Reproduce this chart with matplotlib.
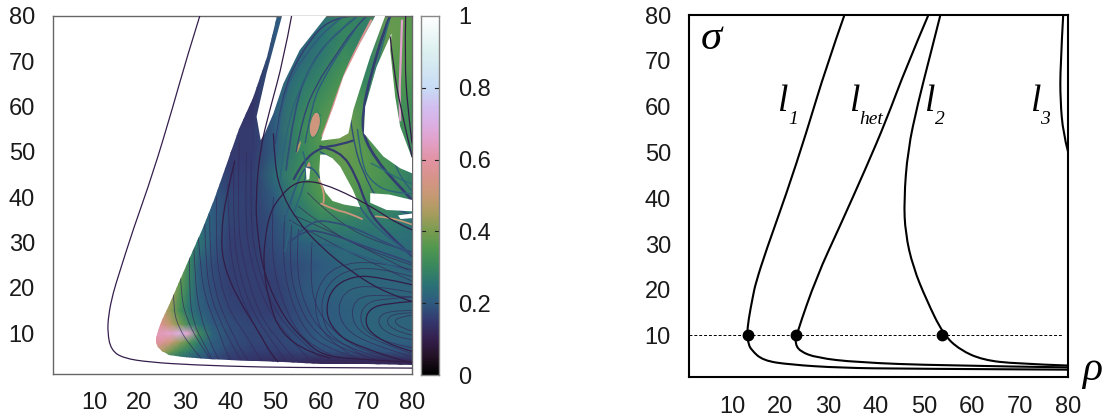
import matplotlib
matplotlib.use("Agg")
import matplotlib.pyplot as plt
import numpy as np
from matplotlib.colors import LinearSegmentedColormap
from matplotlib.patches import PathPatch, Polygon
from matplotlib.path import Path

plt.rcParams['font.family'] = ['Liberation Sans', 'DejaVu Sans']

# colour scale
cbar_stops = [0, 0.05, 0.1, 0.15, 0.2, 0.25, 0.3, 0.35, 0.4, 0.45, 0.5, 0.55, 0.6, 0.65, 0.7, 0.75, 0.8, 0.9, 1]
cbar_colors = ['#000000', '#241226', '#35204f', '#34396f', '#2f5a7f', '#2b7276', '#38875f', '#4f974f',
               '#789c50', '#a89c5e', '#c79a74', '#d8938a', '#e293a4', '#e3a0c8', '#dcb0e4', '#d2c0f0',
               '#c8dcf6', '#dcf0f0', '#ffffff']

# shading of the map, rows follow grid_y, columns follow grid_x
grid_x = [23, 25, 27, 29, 31, 33, 36, 40, 45, 50, 55, 60, 65, 70, 75, 80]
grid_y = [2, 4, 6, 8, 10, 12, 15, 20, 25, 30, 35, 40, 45, 50, 55, 60, 65, 70, 75, 80]
grid_v = [
    [.15, .15, .15, .15, .15, .15, .14, .13, .13, .12, .12, .12, .12, .12, .12, .12],
    [.32, .30, .26, .23, .21, .19, .17, .15, .14, .13, .13, .12, .12, .12, .12, .12],
    [.50, .45, .38, .31, .27, .24, .20, .17, .16, .16, .17, .18, .19, .19, .19, .19],
    [.60, .58, .50, .42, .34, .27, .21, .18, .17, .17, .18, .20, .21, .21, .21, .21],
    [.62, .64, .66, .70, .66, .32, .22, .18, .17, .17, .18, .20, .21, .22, .22, .22],
    [.60, .55, .48, .40, .30, .25, .20, .18, .17, .17, .18, .20, .21, .22, .22, .22],
    [.55, .50, .42, .32, .25, .22, .19, .17, .16, .16, .18, .20, .21, .22, .22, .22],
    [.50, .50, .45, .36, .28, .21, .18, .16, .16, .16, .19, .21, .22, .22, .22, .22],
    [.40, .40, .40, .40, .30, .21, .18, .16, .16, .17, .18, .20, .22, .23, .23, .23],
    [.30, .30, .30, .30, .30, .26, .20, .16, .16, .18, .21, .23, .24, .24, .24, .24],
    [.24, .24, .24, .24, .24, .24, .21, .17, .16, .19, .25, .29, .29, .27, .27, .25],
    [.20, .20, .20, .20, .20, .20, .20, .17, .16, .21, .28, .35, .37, .33, .32, .28],
    [.18, .18, .18, .18, .18, .18, .18, .16, .16, .24, .31, .36, .37, .36, .33, .28],
    [.16, .16, .16, .16, .16, .16, .16, .15, .15, .21, .29, .35, .38, .36, .32, .30],
    [.15, .15, .15, .15, .15, .15, .15, .15, .15, .21, .30, .36, .40, .34, .32, .32],
    [.14, .14, .14, .14, .14, .14, .14, .14, .14, .21, .28, .33, .38, .33, .33, .32],
    [.14, .14, .14, .14, .14, .14, .14, .14, .14, .20, .26, .30, .35, .30, .35, .34],
    [.13, .13, .13, .13, .13, .13, .13, .13, .13, .20, .23, .27, .32, .28, .36, .36],
    [.13, .13, .13, .13, .13, .13, .13, .13, .13, .20, .21, .25, .30, .28, .38, .36],
    [.13, .13, .13, .13, .13, .13, .13, .13, .13, .20, .20, .24, .30, .28, .38, .36],
]

# outline of the coloured region
wedge_x = [23.6, 24, 25, 26.75, 29.7, 33.7, 36.5, 39, 42, 45, 48, 50.4, 80, 80, 70, 60, 51.6, 40, 35, 29.6, 26.5, 25, 24.1, 23.7]
wedge_y = [9, 10.5, 13, 16.6, 23.2, 32.8, 39.5, 47, 55, 62, 71, 80, 80, 3, 3.1, 3.3, 3.6, 4, 4.3, 4.75, 5.3, 6, 6.9, 7.8]

# white gaps inside the region
hole_a = [(46.7, 52.6), (45.8, 57.8), (48, 67.4), (51.4, 80), (61.2, 80), (55.3, 72.5), (51.7, 65.1), (49.5, 58.5), (47.6, 54.1)]
hole_b = [(71.9, 80), (68.6, 74), (64.9, 66.6), (62.7, 60), (60.5, 54.1), (60, 52.5), (64, 53), (66, 54.1), (67.1, 59.3), (70.8, 71), (74.1, 80)]
hole_c = [(75.5, 76.2), (72.2, 68.8), (69.7, 60), (69.4, 54.1), (73.7, 49), (77.4, 46.4), (80, 45.3), (80, 48.6), (77.4, 55.6), (76.3, 62.2), (75.2, 72.5)]
hole_d = [(59.8, 49.4), (59.6, 46), (59.8, 43.8), (61, 41), (62.5, 39.2), (65, 38.4), (68.6, 37.8), (67, 41.6), (64.2, 46.8), (62.5, 48.6), (61, 49.4)]
hole_e = [(70.8, 40.9), (75, 40.6), (80, 39.4), (80, 36.9), (74.4, 37.2), (70.8, 38.8)]
hole_f = [(56.6, 46.6), (57.6, 46.2), (57.4, 44), (56.8, 43.8)]
hole_g = [(76.9, 36), (80, 36.4), (80, 35.4), (77.5, 35.2)]
holes = [hole_a, hole_b, hole_c, hole_d, hole_e, hole_f, hole_g]

# thin outer curve and the dark curves of the map
outer_x = [33.3, 30.5, 27.4, 23, 18.6, 15.5, 14.2, 13.2, 13, 13.8, 16.4, 22.3, 31.8, 47, 62, 80]
outer_y = [80, 71, 60, 45.3, 32.8, 23, 18.8, 14, 10, 6.3, 4.5, 3.6, 3, 2.5, 2.4, 2.3]

dark_curves = [
    ([53.5, 51.7, 48.7, 46.5, 45.6, 45.9, 47.3, 51.6, 56.9, 60.4, 66, 80], [80, 70.3, 59.3, 50.4, 39.4, 32.8, 23.3, 13.6, 7.8, 5.2, 4.3, 3.6]),
    ([41, 39, 38, 38.4, 41.4, 46.5, 48.8, 50.5], [48, 40, 32, 25.5, 18, 10, 5.6, 3.7]),
    ([49.5, 49.8, 51.3, 54.6, 59.8, 67.1, 74.4, 80], [54, 46.8, 40.9, 35, 29.1, 23.2, 18.8, 17]),
    ([62, 57.5, 51, 48.4, 47.3, 47.6, 48.7, 50.9, 53.9, 56.8, 60.5, 67.1, 72.2, 76.6, 80],
     [4.5, 5.6, 10, 17.4, 24.7, 30.6, 36.5, 40.1, 43, 43.6, 43, 40.1, 37.2, 34.3, 32.8]),
    ([80, 72.2, 67.1, 62.7, 61, 62, 67, 80], [20.7, 22.5, 22.6, 20.3, 15.9, 11.5, 7.1, 3.4]),
    ([80, 74.4, 70.8, 69.6, 70.8, 76, 80], [17, 16.6, 15.5, 12.9, 10, 7.1, 6]),
    ([75.2, 75.9, 77.4, 80], [75.4, 68.8, 60, 49]),
    ([78.6, 78.4, 79, 80], [80, 70, 60, 52]),
]

# strands of the upper part, (x, y, colour value, width)
strands = [
    ([80, 75.9, 72.2, 69.3, 69.1, 70.8, 74.1, 75.2], [39.4, 43.8, 48.2, 53.4, 58.5, 66.6, 77.6, 80], .16, 2.0),
    ([59.8, 64.2, 67.8, 70, 72.9, 80], [51.2, 50.4, 44.6, 38, 33.5, 27], .15, 1.6),
    ([59.8, 62.7, 66.5, 69.4, 76, 80], [50, 48.8, 42, 36, 30, 27.3], .2, 1.1),
    ([50, 51.1, 55.5, 62, 68], [52, 62, 72, 80, 80], .16, 1.0),
    ([52.3, 54, 58, 63, 68], [46, 60, 70, 76, 80], .18, 1.2),
    ([54.5, 56, 59, 63, 67, 70], [50, 58, 65, 71, 77, 80], .17, 1.0),
    ([49.8, 50.6, 53, 57, 61, 65], [48, 57, 66, 72, 77, 80], .2, 1.0),
    ([51, 52, 55.5, 60, 64.5, 68], [44, 54, 65, 72.5, 77.5, 80], .22, 1.0),
    ([56.5, 58, 61, 64, 67.5], [52, 61, 67, 72, 77], .2, 1.0),
    ([54, 56, 59.8, 64, 67], [44, 48, 51, 51.5, 52.5], .16, 1.6),
    ([52, 55, 58, 59.8], [35, 45, 47.5, 44], .2, 1.2),
    ([55, 58, 63, 68, 74, 80], [32, 35, 34.5, 33, 30, 27.5], .18, 1.2),
    ([53, 56, 62, 70, 76, 80], [30, 33, 32, 29, 27, 25.5], .17, 1.2),
    ([71, 74, 77, 80], [47.5, 46, 44, 43], .24, 1.0),
    ([66.5, 67.5, 70, 72, 76, 80], [57, 50, 44, 40, 37.5, 36], .18, 1.0),
    ([68, 69, 71, 75, 80], [55, 47, 43.5, 41, 40.8], .22, 1.0),
    ([70.5, 71.5, 73, 75], [59, 66, 72, 79], .24, 1.0),
    ([72, 75, 77, 80], [54, 52, 44.6, 41.4], .2, 0.8),
    ([56, 57, 56, 54.5, 53, 52], [50, 47, 42, 38, 33, 28], .22, 1.0),
    ([57, 61, 66, 72, 80], [29, 30, 28, 26, 23.5], .2, 1.0),
]

# pale pink seams next to the white gaps
seams = [
    ([71, 67, 64, 62, 60.3], [79, 71.5, 64, 58, 53.5], .56, 1.6),
    ([77.8, 77.5, 77.2, 77.4], [79, 70, 62, 57], .66, 1.6),
    ([60, 63, 66, 69], [38.6, 37.2, 36.6, 35.2], .52, 1.3),
    ([59.5, 61, 60.5], [44, 41, 38.8], .52, 1.3),
    ([72, 75, 78, 80], [35.8, 35.5, 34.7, 34], .5, 1.2),
    ([64.5, 62.5, 60.5], [60, 56.5, 52.8], .5, 1.6),
]

# pink patches inside the loops, closed outlines with a colour value
loops = [
    ([60, 59, 57.5, 57.3, 58.3, 59.7], [58, 59.5, 57, 54, 52.8, 55], .52),
    ([56, 54.5, 54.2, 55.2], [53.5, 51.5, 49.5, 50], .48),
    ([57.4, 56.5, 56.8, 58], [48.5, 47, 45, 46.5], .5),
]

# fine streamlines of the lower part
fine_curves = [
    ([27.5, 27.5, 28.8, 31, 33.5], [20, 15, 11, 7.5, 4.6]),
    ([29, 29.2, 30.5, 33, 35.5], [24, 18, 13, 8, 4.5]),
    ([31, 31, 32, 34, 36], [27, 18, 12, 8, 4.3]),
    ([32, 32.3, 33.2, 35, 37.4], [29, 21, 15, 9, 4.3]),
    ([33, 33.5, 34.5, 36, 38, 39, 40], [31, 24, 18, 14, 9, 6, 4.2]),
    ([34.4, 34.6, 35.5, 37.2, 39.6, 41.2, 42.4], [34, 26, 19, 14, 9, 6, 4]),
    ([35.5, 35.5, 36.5, 38.5, 41, 42.5, 44], [36, 28, 20, 14, 9, 6, 3.9]),
    ([37, 36.8, 37.6, 39.8, 43.5, 45.5, 47], [40, 30, 22, 15, 9.5, 6, 3.8]),
    ([39.5, 39.6, 41, 44, 47.5, 50], [43, 32, 22, 14, 8, 4]),
    ([40.8, 40.6, 42, 45, 49, 52], [47, 33, 23, 14.5, 8.5, 4.2]),
    ([42, 41.5, 43, 46, 50, 54], [52, 35, 25, 15, 9, 4.5]),
    ([43.6, 43.2, 44.4, 47.8, 52.5, 57], [50, 36, 26, 16, 9.5, 4.6]),
    ([44.6, 44.4, 45.6, 49.4, 54.6, 60], [48, 36, 26, 15.5, 9, 4.5]),
    ([49.5, 49, 50.2, 53.5, 58, 64], [40, 30, 21, 12, 7, 4.3]),
    ([52, 51.5, 52.5, 55.5, 60, 68], [36, 28, 20, 12, 7, 4.5]),
    ([53.5, 53, 54.2, 57.6, 64, 72], [34, 26, 18.5, 11, 6.6, 4.2]),
    ([55, 54.5, 56, 60, 68, 75], [33, 25, 17, 10, 6, 4]),
    ([58, 57.5, 59, 64, 72, 80], [30, 22, 15, 9, 5, 3.8]),
    ([80, 72, 66, 63.5, 65, 71, 80], [19, 20.5, 20, 16, 11, 7.5, 4.8]),
    ([80, 73, 68, 66.5, 68, 74, 80], [18, 18.5, 18, 14.5, 10.5, 7.5, 5.5]),
    ([80, 74, 70, 68.3, 70, 75, 80], [18, 17.6, 16.8, 13.5, 10, 7.8, 6.8]),
    ([80, 75, 72.5, 73, 77, 80], [15, 15, 13.5, 11, 9, 8.6]),
    ([80, 76, 74.4, 75, 78, 80], [14.5, 14.4, 13, 11.4, 10, 9.6]),
    ([80, 77, 76, 78, 80], [14, 13.5, 12.5, 11, 10.5]),
    ([80, 72, 63, 59, 58.6, 61, 66], [24, 26, 25, 20, 14, 9, 5.6]),
    ([80, 73, 65, 60.4, 60, 62.6, 70], [22.5, 24.5, 24, 19.5, 13.5, 8.4, 4.8]),
    ([55, 60, 68, 80], [38, 34, 29, 25]),
    ([57, 63, 72, 80], [41, 35, 30, 28]),
    ([53, 60, 70, 80], [35, 31, 26, 21.5]),
    ([54, 61, 71, 80], [36, 33, 28, 23.5]),
]

# curves of the right panel
l1_x = [33.4, 29.6, 25.4, 21.3, 17.1, 14.9, 14.3, 13.4, 13.1, 13.4, 14, 16.4, 22, 32.5, 46.3, 80]
l1_y = [80, 68.7, 54.1, 41, 28.7, 21.5, 18.5, 13.5, 10.3, 8.2, 6.9, 4.6, 3.7, 3, 2.8, 2.6]
lhet_x = [50.9, 46.3, 42.1, 38, 32.4, 27.6, 23.4, 23.1, 24.1, 27.6, 35.9, 53.3, 80]
lhet_y = [80, 68.7, 57, 46.9, 33.8, 22.9, 10.3, 8.4, 6.6, 5.2, 4.2, 3.5, 3.1]
l2_x = [53.4, 51.2, 48.7, 46.6, 45.8, 46.1, 47.7, 50.5, 54, 57.5, 62.3, 69.2, 80]
l2_y = [80, 70.9, 60.7, 50.5, 39.6, 32.3, 25, 17.8, 10.3, 6.9, 4.7, 3.9, 3.5]
l3_x = [80, 79, 78.4, 78.4, 79]
l3_y = [50.2, 54.1, 61.4, 68.7, 80]
dot_x = [13.3, 23.4, 53.8]
dot_y = [10.2, 10.2, 10.2]
dash_x = [1, 79]
dash_y = [10.2, 10.2]

ticks = [10, 20, 30, 40, 50, 60, 70, 80]
cbar_ticks = [0, 0.2, 0.4, 0.6, 0.8, 1]
cbar_labels = ['0', '0.2', '0.4', '0.6', '0.8', '1']

W, H = 1105, 417
TICK_SIZE = 17


def px_axes(x0, x1, y0, y1):
    return fig.add_axes([x0 / W, 1 - y1 / H, (x1 - x0) / W, (y1 - y0) / H])


def smooth(ax, cx, cy, clip=None, fc='none', closed=False, **kw):
    # rounds the corners of a read-off curve with quadratic beziers
    pts = list(zip(cx, cy))
    if closed:
        pts = pts + pts[:2]
    verts = [pts[0]]
    codes = [Path.MOVETO]
    for i in range(1, len(pts) - 1):
        mid = ((pts[i][0] + pts[i + 1][0]) / 2, (pts[i][1] + pts[i + 1][1]) / 2)
        if i == len(pts) - 2:
            mid = pts[i + 1]
        verts += [pts[i], mid]
        codes += [Path.CURVE3, Path.CURVE3]
    patch = PathPatch(Path(verts, codes), fc=fc, capstyle='round', **kw)
    ax.add_patch(patch)
    if clip is not None:
        patch.set_clip_path(clip)
    return patch


cmap = LinearSegmentedColormap.from_list('bar', list(zip(cbar_stops, cbar_colors)))
fig = plt.figure(figsize=(W / 100, H / 100), dpi=100)

# left panel
ax = px_axes(53, 412, 16, 374)
ax.set_xlim(1, 80)
ax.set_ylim(1, 80)
wedge = Polygon(list(zip(wedge_x, wedge_y)), closed=True, transform=ax.transData, fc='none', ec='none')
ax.add_patch(wedge)
mesh = ax.pcolormesh(grid_x, grid_y, np.array(grid_v), cmap=cmap, vmin=0, vmax=1, shading='gouraud', rasterized=True)
mesh.set_clip_path(wedge)

for cx, cy, val in loops:
    smooth(ax, cx, cy, clip=wedge, fc=cmap(val), closed=True, ec=cmap(.3), lw=0.8)
for cx, cy in fine_curves:
    smooth(ax, cx, cy, clip=wedge, ec=cmap(.12), lw=0.6, alpha=0.75)
for cx, cy, val, lw in strands:
    smooth(ax, cx, cy, clip=wedge, ec=cmap(val), lw=lw)
for cx, cy, val, lw in seams:
    smooth(ax, cx, cy, clip=wedge, ec=cmap(val), lw=lw)
for hole in holes:
    ax.add_patch(Polygon(hole, closed=True, fc='white', ec='none', zorder=3))
smooth(ax, outer_x, outer_y, ec=cmap(.1), lw=0.9, zorder=4)
for cx, cy in dark_curves:
    smooth(ax, cx, cy, ec=cmap(.09), lw=0.9, zorder=4)

ax.set_xticks(ticks)
ax.set_yticks(ticks)
ax.tick_params(length=0, labelsize=TICK_SIZE, colors='#1a1a1a')
ax.tick_params(axis='x', pad=13)
ax.tick_params(axis='y', pad=13)
for sp in ax.spines.values():
    sp.set_color('#666666')
    sp.set_linewidth(1.0)

# colour bar
cax = px_axes(421, 439, 16, 375)
fine = np.linspace(0, 1, 256).reshape(-1, 1)
cax.imshow(fine, origin='lower', aspect='auto', cmap=cmap, vmin=0, vmax=1, extent=[0, 1, 0, 1])
cax.set_xticks([])
cax.yaxis.tick_right()
cax.set_yticks(cbar_ticks)
cax.set_yticklabels(cbar_labels)
cax.tick_params(axis='y', length=0, labelsize=TICK_SIZE, pad=14, colors='#1a1a1a')
for t in cbar_ticks[1:-1]:
    cax.plot([0, 0.2], [t, t], color='#222222', lw=0.8)
    cax.plot([0.8, 1], [t, t], color='#222222', lw=0.8)
cax.set_xlim(0, 1)
cax.set_ylim(0, 1)
for sp in cax.spines.values():
    sp.set_color('#888888')
    sp.set_linewidth(1.0)

# right panel
ax2 = px_axes(689, 1068, 15, 377)
ax2.set_xlim(1, 80)
ax2.set_ylim(1, 80)
for cx, cy in [(l1_x, l1_y), (lhet_x, lhet_y), (l2_x, l2_y), (l3_x, l3_y)]:
    smooth(ax2, cx, cy, ec='black', lw=1.5, clip_on=False)
ax2.plot(dash_x, dash_y, color='black', lw=0.7, ls=(0, (3, 2)))
ax2.plot(dot_x, dot_y, 'o', color='black', ms=7.5)
ax2.set_xticks(ticks)
ax2.set_yticks(ticks)
ax2.tick_params(length=0, labelsize=TICK_SIZE, colors='#1a1a1a')
ax2.tick_params(axis='x', pad=14)
ax2.tick_params(axis='y', pad=13)
for sp in ax2.spines.values():
    sp.set_linewidth(1.5)

serif = ['Liberation Serif', 'DejaVu Serif']
ax2.text(3.5, 74.8, '\u03c3', family=serif, style='italic', fontsize=31, ha='left', va='center')
ax2.text(85, 2.5, '\u03c1', family=serif, style='italic', fontsize=30, ha='center', va='center', clip_on=False)
labels = [(19.6, 61, 'l', 21.8, 57.3, '1'), (34.6, 61, 'l', 36.6, 57.3, 'het'),
          (50.2, 61, 'l', 52.2, 57.3, '2'), (72.3, 61, 'l', 74.2, 57.3, '3')]
for lx, ly, main, sx, sy, sub in labels:
    ax2.text(lx, ly, main, family=serif, style='italic', fontsize=27, ha='left', va='center')
    ax2.text(sx, sy, sub, family=serif, style='italic', fontsize=14, ha='left', va='center')

fig.savefig('out.png', dpi=100)
